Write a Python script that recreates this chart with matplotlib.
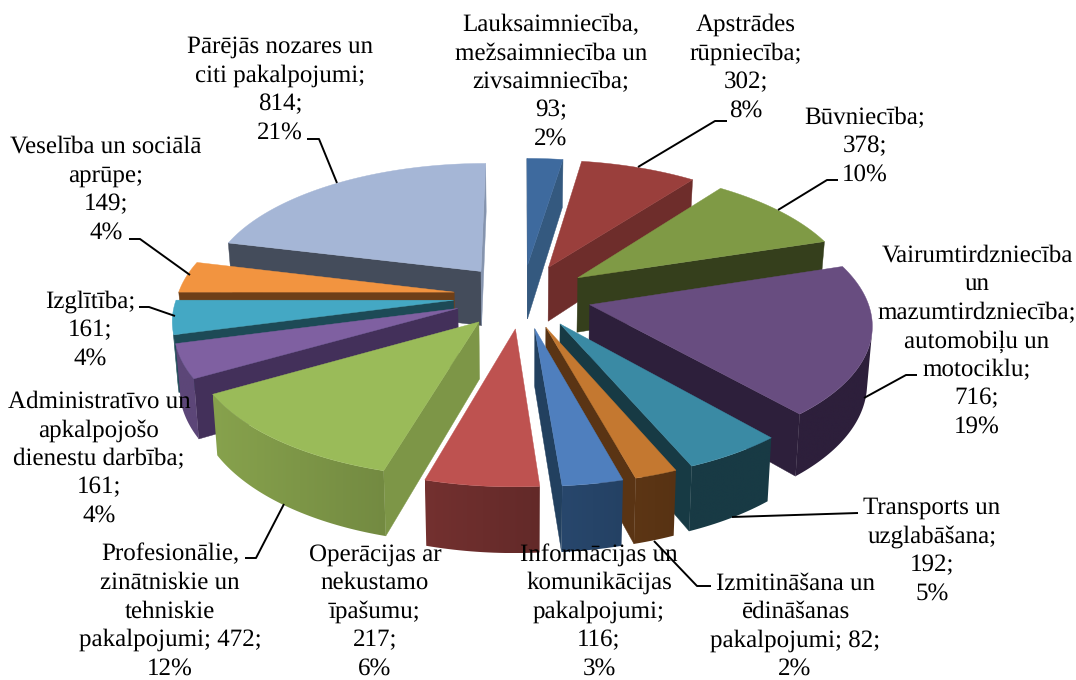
import numpy as np
import matplotlib
matplotlib.use("Agg")
import matplotlib.pyplot as plt
from matplotlib.colors import to_rgb
from matplotlib.patches import Polygon

# --- data -------------------------------------------------------------
sector_values = [93, 302, 378, 716, 192, 82, 116, 217, 472, 161, 161, 149, 814]
label_lines = [
    ["Lauksaimniecība,", "mežsaimniecība un", "zivsaimniecība;", "{v};", "{p}%"],
    ["Apstrādes", "rūpniecība;", "{v};", "{p}%"],
    ["Būvniecība;", "{v};", "{p}%"],
    ["Vairumtirdzniecība", "un", "mazumtirdzniecība;", "automobiļu un", "motociklu;", "{v};", "{p}%"],
    ["Transports un", "uzglabāšana;", "{v};", "{p}%"],
    ["Izmitināšana un", "ēdināšanas", "pakalpojumi; {v};", "{p}%"],
    ["Informācijas un", "komunikācijas", "pakalpojumi;", "{v};", "{p}%"],
    ["Operācijas ar", "nekustamo", "īpašumu;", "{v};", "{p}%"],
    ["Profesionālie,", "zinātniskie un", "tehniskie", "pakalpojumi; {v};", "{p}%"],
    ["Administratīvo un", "apkalpojošo", "dienestu darbība;", "{v};", "{p}%"],
    ["Izglītība;", "{v};", "{p}%"],
    ["Veselība un sociālā", "aprūpe;", "{v};", "{p}%"],
    ["Pārējās nozares un", "citi pakalpojumi;", "{v};", "{p}%"],
]

# --- styles -----------------------------------------------------------
top_colors = ["#3E6A9E", "#9A3F3C", "#7F9A45", "#684D80", "#3A8AA4", "#C47830", "#4F7FBE",
              "#BE5250", "#9ABB59", "#7F60A1", "#44A8C4", "#F29440", "#A5B6D6"]
start_wall = ["#2E4F74", "#662A28", "#353F1C", "#2D1F3B", "#173A44", "#5A3414", "#22405F",
              "#6E2C2B", "#7D9647", "#43305A", "#1D4A56", "#6E3F18", "#444C5B"]
end_wall = ["#34597F", "#6E2D2B", "#353F1C", "#2D1F3B", "#173A44", "#5A3414", "#22405F",
            "#6E2C2B", "#7D9647", "#43305A", "#1D4A56", "#6E3F18", "#8594AE"]
outer_wall = ["#2E4F74", "#5F2726", "#353F1C", "#2D1F3B", "#183A44", "#5A3414", "#264468",
              "#6B2D2C", "#7D9647", "#5C4678", "#1D4A56", "#6E3F18", "#444C5B"]
wall_gradient = [0, 0, 0, 0, 0, 0.06, 0.08, 0.16, 0.16, 0, 0, 0, 0]
label_x = [551, 746, 865, 977, 932, 795, 599, 375, 170, 99, 90, 106, 280]
label_y = [31, 31, 124, 262, 514, 589.5, 560.5, 560.5, 560.5, 408, 308, 153, 53]
line_pitch = 28.5
font_px = 25.4
leaders = [
    None,
    [(727, 121), (715, 121), (638, 167)],
    [(838, 180), (827, 180), (778, 210)],
    [(917, 375), (906, 375), (864, 398)],
    [(858, 513), (732, 517)],
    [(711, 586), (697, 586), (654, 541)],
    None,
    None,
    [(245, 558), (256, 558), (284, 504)],
    None,
    [(139, 307), (149, 307), (175, 316)],
    [(129, 239), (140, 239), (190, 275)],
    [(307, 139), (319, 139), (337, 183)],
]

CX, CY = 522.5, 296.0     # projection centre in pixels
AX, BY = 276.5, 128.0     # horizontal and depth scale
PERSP = 0.13              # perspective strength
EXPLODE = 0.25
DEPTH = 55.5
BOTTOM_SHRINK = 0.985

plt.rcParams["text.hinting"] = "none"
plt.rcParams["text.hinting_factor"] = 1


def project(u, v, bottom=False):
    w = 1 + PERSP * v
    x = AX * u / w
    y = BY * v / w
    if bottom:
        return CX + x * BOTTOM_SHRINK, CY - y + DEPTH / w
    return CX + x, CY - y


def area(p):
    p = np.asarray(p)
    x, y = p[:, 0], p[:, 1]
    return 0.5 * np.sum(x * np.roll(y, -1) - np.roll(x, -1) * y)


fig = plt.figure(figsize=(10.76, 6.80), dpi=100)
ax = fig.add_axes([0, 0, 1, 1])
ax.set_xlim(0, 1076)
ax.set_ylim(680, 0)
ax.axis("off")

total = sum(sector_values)
edges = np.cumsum([0] + sector_values) / total * 2 * np.pi
mids = (edges[:-1] + edges[1:]) / 2
order = np.argsort(-np.cos(mids))

for rank, i in enumerate(order):
    z = 2 + rank * 0.01
    a0, a1 = edges[i], edges[i + 1]
    du, dv = EXPLODE * np.sin(mids[i]), EXPLODE * np.cos(mids[i])
    t = np.linspace(a0, a1, max(8, int((a1 - a0) * 60)))
    us = np.r_[du, du + np.sin(t)]
    vs = np.r_[dv, dv + np.cos(t)]
    top = [project(u, v) for u, v in zip(us, vs)]
    bot = [project(u, v, True) for u, v in zip(us, vs)]
    n = len(top)

    # the two radial walls
    for k, col in ((0, start_wall[i]), (n - 1, end_wall[i])):
        j = (k + 1) % n
        quad = [top[k], top[j], bot[j], bot[k]]
        if area(quad) < 0:
            ax.fill(*zip(*quad), facecolor=col, edgecolor=col, linewidth=0.3, zorder=z)

    # the curved wall, as one gradient-filled shape
    vis = [k for k in range(1, n - 1) if area([top[k], top[k + 1], bot[k + 1], bot[k]]) < 0]
    if vis:
        idx = list(range(vis[0], vis[-1] + 2))
        outline = [top[k] for k in idx] + [bot[k] for k in idx[::-1]]
        xs = np.array([p[0] for p in outline])
        ys = np.array([p[1] for p in outline])
        g = wall_gradient[i] / 2
        grad = np.linspace(1 + g, 1 - g, 128)[None, :, None] * np.array(to_rgb(outer_wall[i]))
        im = ax.imshow(np.clip(grad, 0, 1), extent=(xs.min(), xs.max(), ys.max(), ys.min()),
                       aspect="auto", zorder=z, interpolation="bilinear")
        clip = Polygon(outline, closed=True, transform=ax.transData)
        im.set_clip_path(clip)
        ax.set_xlim(0, 1076)
        ax.set_ylim(680, 0)

    ax.fill(*zip(*top), facecolor=top_colors[i], edgecolor=top_colors[i], linewidth=0.3, zorder=z)

for path in leaders:
    if path:
        ax.plot(*zip(*path), color="black", lw=1.4, zorder=3, solid_capstyle="butt")

for v, lines, lx, ly in zip(sector_values, label_lines, label_x, label_y):
    pct = round(v / total * 100)
    for n, line in enumerate(lines):
        ax.text(lx, ly + n * line_pitch, line.format(v=v, p=pct), ha="center", va="baseline",
                family="Liberation Serif", fontsize=font_px * 0.72, color="black", zorder=4,
                clip_on=False)

fig.savefig("out.png", dpi=100, facecolor="white")
